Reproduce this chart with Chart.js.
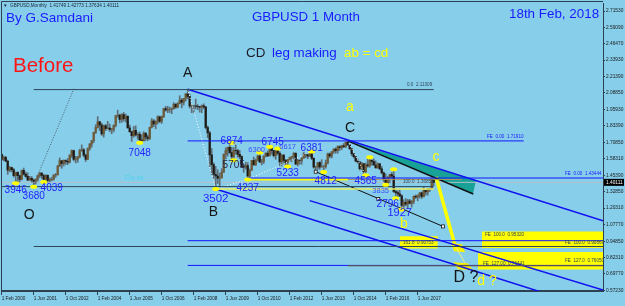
<!DOCTYPE html>
<html>
<head>
<meta charset="utf-8">
<script src="https://cdn.jsdelivr.net/npm/chart.js@4.4.1/dist/chart.umd.min.js"></script>
<style>
  html, body { margin: 0; padding: 0; background: #87ceeb; }
  #wrap { width: 625px; height: 306px; }
</style>
</head>
<body>
<div id="wrap"><canvas id="chart" width="625" height="306"></canvas></div>
<script>
// GBPUSD monthly candles, Feb 2000 .. Feb 2018 (index 0 = Feb 2000)
var firstOpen = 1.6170;
var closes = [
  1.5780,1.5930,1.5640,1.4950,1.5150,1.4980,1.4530,1.4780,1.4530,1.4240,1.4930,
  1.4640,1.4470,1.4190,1.4320,1.4180,1.4100,1.4240,1.4530,1.4720,1.4540,1.4240,1.4550,
  1.4160,1.4230,1.4250,1.4570,1.4600,1.5260,1.5670,1.5450,1.5690,1.5630,1.5560,1.6100,
  1.6450,1.5780,1.5800,1.5960,1.6450,1.6510,1.6100,1.5780,1.6600,1.6950,1.7220,1.7850,
  1.8220,1.8660,1.8410,1.7730,1.8350,1.8140,1.8180,1.8060,1.8070,1.8390,1.9140,1.9170,
  1.8840,1.9210,1.8890,1.9080,1.8190,1.7900,1.7590,1.8000,1.7650,1.7700,1.7270,1.7200,
  1.7780,1.7490,1.7370,1.8240,1.8720,1.8490,1.8680,1.9040,1.8700,1.9070,1.9670,1.9570,
  1.9610,1.9620,1.9670,2.0000,1.9790,2.0070,2.0320,2.0160,2.0450,2.0800,2.0600,1.9860,
  1.9880,1.9880,1.9850,1.9830,1.9780,1.9890,1.9800,1.8220,1.7810,1.6120,1.5370,1.4620,
  1.4500,1.4320,1.4350,1.4790,1.6160,1.6460,1.6700,1.6290,1.5980,1.6460,1.6440,1.6160,
  1.5990,1.5230,1.5180,1.5300,1.4500,1.4950,1.5690,1.5350,1.5720,1.6030,1.5570,1.5610,
  1.6010,1.6250,1.6040,1.6700,1.6450,1.6060,1.6440,1.6250,1.5590,1.6080,1.5700,1.5540,
  1.5750,1.5910,1.6000,1.6240,1.5420,1.5690,1.5680,1.5870,1.6150,1.6130,1.6020,1.6250,
  1.5860,1.5180,1.5190,1.5530,1.5190,1.5210,1.5210,1.5500,1.6190,1.6030,1.6360,1.6560,
  1.6440,1.6750,1.6670,1.6820,1.6740,1.7100,1.6880,1.6590,1.6210,1.5990,1.5640,1.5580,
  1.5060,1.5440,1.4830,1.5350,1.5280,1.5710,1.5620,1.5340,1.5120,1.5440,1.5050,1.4740,
  1.4250,1.3920,1.4370,1.4610,1.4490,1.3310,1.3230,1.3130,1.2980,1.2240,1.2480,1.2340,
  1.2580,1.2410,1.2550,1.2940,1.2880,1.3030,1.3210,1.2920,1.3400,1.3280,1.3520,1.3510,
  1.4175,1.4011
];
var highs = [
  1.6190,1.6040,1.6000,1.5720,1.5230,1.5180,1.5080,1.4800,1.4820,1.4560,1.4960,
  1.5110,1.4800,1.4740,1.4470,1.4460,1.4270,1.4290,1.4560,1.4780,1.4760,1.4620,1.4600,
  1.4580,1.4340,1.4410,1.4600,1.4700,1.5330,1.5890,1.5700,1.5740,1.5740,1.5850,1.6130,
  1.6500,1.6480,1.6010,1.6000,1.6560,1.6890,1.6620,1.6180,1.6660,1.7000,1.7230,1.7860,
  1.8430,1.9050,1.8700,1.8560,1.8420,1.8460,1.8690,1.8490,1.8160,1.8420,1.9150,1.9550,
  1.9240,1.9290,1.9380,1.9250,1.9130,1.8410,1.7930,1.8300,1.8350,1.7820,1.7880,1.7670,
  1.7900,1.7830,1.7640,1.8250,1.8910,1.8840,1.8740,1.9120,1.9100,1.9100,1.9700,1.9850,
  1.9850,1.9790,1.9720,2.0130,2.0060,2.0130,2.0660,2.0450,2.0460,2.0820,2.1161,2.0750,
  1.9940,1.9930,2.0400,1.9980,1.9850,1.9950,2.0040,1.9850,1.8340,1.7920,1.6610,1.5510,
  1.5230,1.4980,1.4730,1.5060,1.6190,1.6660,1.6720,1.7043,1.6700,1.6680,1.6880,1.6550,
  1.6460,1.6050,1.5370,1.5560,1.5520,1.5040,1.5700,1.5950,1.5800,1.6100,1.6300,1.5780,
  1.6060,1.6280,1.6420,1.6745,1.6700,1.6470,1.6470,1.6617,1.6370,1.6170,1.6170,1.5780,
  1.5780,1.5950,1.6000,1.6300,1.6290,1.5780,1.5750,1.5900,1.6310,1.6180,1.6170,1.6310,
  1.6381,1.5890,1.5250,1.5530,1.5600,1.5750,1.5310,1.5720,1.6260,1.6260,1.6380,1.6600,
  1.6670,1.6820,1.6820,1.6860,1.6990,1.7100,1.7190,1.6890,1.6640,1.6230,1.6000,1.5790,
  1.5590,1.5550,1.5450,1.5500,1.5820,1.5930,1.5730,1.5820,1.5660,1.5500,1.5450,1.5240,
  1.4810,1.4670,1.4460,1.4640,1.4770,1.5018,1.3480,1.3370,1.3440,1.3060,1.2680,1.2770,
  1.2710,1.2710,1.2620,1.2970,1.3050,1.3030,1.3210,1.3270,1.3650,1.3410,1.3550,1.3550,
  1.4340,1.4277
];
var lows = [
  1.5720,1.5670,1.5600,1.4630,1.4820,1.4810,1.4420,1.3946,1.4020,1.4050,1.4200,
  1.4570,1.4400,1.4140,1.4160,1.4030,1.3680,1.3890,1.4100,1.4380,1.4320,1.4039,1.4150,
  1.4030,1.4050,1.4120,1.4180,1.4400,1.4560,1.5220,1.5090,1.5260,1.5380,1.5370,1.5500,
  1.5920,1.5660,1.5500,1.5550,1.5900,1.6400,1.5970,1.5610,1.5760,1.6470,1.6710,1.7060,
  1.7760,1.8170,1.7980,1.7610,1.7480,1.7980,1.8110,1.7900,1.7740,1.7880,1.8270,1.9010,
  1.8580,1.8620,1.8700,1.8640,1.8170,1.7850,1.7150,1.7480,1.7560,1.7330,1.7048,1.7150,
  1.7190,1.7220,1.7210,1.7290,1.8180,1.8290,1.8120,1.8490,1.8590,1.8530,1.8980,1.9470,
  1.9360,1.9380,1.9280,1.9620,1.9690,1.9730,2.0040,1.9730,1.9940,2.0250,2.0420,1.9720,
  1.9360,1.9350,1.9650,1.9590,1.9400,1.9360,1.9660,1.8110,1.7440,1.5220,1.4600,1.4270,
  1.3502,1.3920,1.3650,1.4340,1.4780,1.5810,1.6030,1.6230,1.5750,1.5710,1.6170,1.5940,
  1.5830,1.5150,1.4780,1.5030,1.4237,1.4350,1.4920,1.5340,1.5300,1.5650,1.5530,1.5350,
  1.5450,1.5960,1.6000,1.6040,1.6170,1.5950,1.5780,1.6120,1.5270,1.5270,1.5420,1.5340,
  1.5233,1.5600,1.5600,1.5800,1.5370,1.5270,1.5400,1.5400,1.5860,1.5910,1.5820,1.6000,
  1.5750,1.5090,1.4830,1.5030,1.5010,1.5170,1.4812,1.5100,1.5420,1.5890,1.5890,1.6230,
  1.6250,1.6250,1.6460,1.6530,1.6690,1.6690,1.6870,1.6540,1.6050,1.5880,1.5590,1.5490,
  1.4950,1.4990,1.4630,1.4565,1.5170,1.5170,1.5330,1.5330,1.5110,1.5100,1.4980,1.4650,
  1.4080,1.3835,1.3840,1.4000,1.4330,1.3230,1.2796,1.2860,1.2910,1.1927,1.2080,1.2200,
  1.1986,1.2350,1.2110,1.2370,1.2770,1.2590,1.2810,1.2770,1.2880,1.3030,1.3030,1.3300,
  1.3450,1.3763
];
var bidPrice = 1.40111;

var timeTickIdx = [0, 16, 32, 48, 64, 80, 96, 112, 128, 144, 160, 176, 192, 208];
var timeLabels = ['1 Feb 2000', '1 Jun 2001', '1 Oct 2002', '1 Feb 2004', '1 Jun 2005', '1 Oct 2006', '1 Feb 2008',
  '1 Jun 2009', '1 Oct 2010', '1 Feb 2012', '1 Jun 2013', '1 Oct 2014', '1 Feb 2016', '1 Jun 2017'];
var priceTicks = [2.71530, 2.59090, 2.46470, 2.33930, 2.21390, 2.08850, 1.95930, 1.83390, 1.70850,
  1.58310, 1.45390, 1.32850, 1.20310, 1.07770, 0.94850, 0.82310, 0.69770, 0.57230];

// swing points marked with yellow dots: month index, price, label
var pivotIdx   = [7, 16, 21, 69, 115, 116, 107, 123, 129, 134, 138, 143, 155, 161, 182, 192, 197, 200, 184, 196];
var pivotPrice = [1.3946, 1.3680, 1.4039, 1.7048, 1.7050, 1.5710, 1.3502, 1.4237, 1.6300, 1.6745, 1.6617,
  1.5233, 1.6381, 1.4812, 1.4565, 1.3835, 1.2796, 1.1927, 1.5930, 1.5018];
var pivotText  = ['3946', '3680', '4039', '7048', '6874', '5705', '3502', '4237', '6300', '6745', '6617',
  '5233', '6381', '4812', '4565', '3835', '2796', '1927', '', ''];

// drawn objects, [month index, price] pairs
var fibTop    = [[16, 2.1131], [216, 2.1131]];
var fibBase   = [[0.15, 1.3685], [216, 1.3685]];
var fe100Line = [[16, 0.9087], [300.65, 0.9087]];
var fe127Line = [[173, 0.7605], [300.65, 0.7605]];
var feC       = [[93, 1.7191], [261, 1.7191]];
var feLast    = [[123, 1.43444], [300.65, 1.43444]];
var fe100Blue = [[93, 0.9532], [300.65, 0.9532]];
var fe127Blue = [[93, 0.7635], [300.65, 0.7635]];
var lvl4237   = [[123, 1.4237], [173, 1.4237]];
var lvl4237b  = [[173, 1.4237], [230, 1.4237]];
var lvl3502   = [[107, 1.3502], [216, 1.3502]];
var bidLine   = [[0.15, bidPrice], [300.65, bidPrice]];
var chanTop   = [[93, 2.1161], [300.65, 1.1067]];
var chanLow   = [[107, 1.3502], [300.65, 0.4089]];
var chanMid   = [[154, 1.2610], [300.65, 0.5747]];
var lineFromC = [[173, 1.7190], [235.8, 1.3121]];
var line4812  = [[157, 1.4830], [220.65, 1.0628]];
var dotRise   = [[15.65, 1.3685], [36.15, 2.1216]];
var dotAB     = [[93, 2.1161], [107, 1.3502]];
var dotB1     = [[107, 1.3502], [123, 1.4237]];
var dotB2     = [[123, 1.4237], [155, 1.6381]];
var dotC      = [[173, 1.7190], [182, 1.4565]];
var cdLeg     = [[217.15, 1.4429], [226.65, 0.9167]];
var cdTail    = [[226.65, 0.9167], [231.5, 0.7850]];
var squares   = [[157, 1.4830], [188.3, 1.2740], [220.65, 1.0628]];
var tealWedge = [[173, 1.7190], [237.15, 1.4154], [235.65, 1.3144], [173, 1.7190]];
var box161    = [[199.15, 0.9865], [218, 0.9865], [218, 0.8927], [199.15, 0.8927], [199.15, 0.9865]];
var box100    = [[240.15, 1.0246], [300.65, 1.0246], [300.65, 0.8977], [240.15, 0.8977], [240.15, 1.0246]];
var box127    = [[238.15, 0.8668], [300.65, 0.8668], [300.65, 0.7326], [238.15, 0.7326], [238.15, 0.8668]];
var dZone1    = [[224.65, 0.9331], [230.15, 0.9255], [231.65, 0.8645], [226.15, 0.8721], [224.65, 0.9331]];
var dZone2    = [[225.65, 0.7882], [233.15, 0.7806], [235.65, 0.7272], [228.15, 0.7348], [225.65, 0.7882]];

var fam = '"Liberation Sans", Arial, sans-serif';
Chart.defaults.font.family = fam;

var opens = closes.map(function (c, i) { return i === 0 ? firstOpen : closes[i - 1]; });
var wickData = closes.map(function (c, i) { return {x: i, y: [lows[i], highs[i]]}; });
var bodyData = closes.map(function (c, i) { return {x: i, y: [opens[i], c]}; });
var bodyColors = closes.map(function (c, i) { return c >= opens[i] ? '#6e5a36' : '#1d1a16'; });

function pts(arr) { return arr.map(function (p) { return {x: p[0], y: p[1]}; }); }
function line(arr, color, width, dash, order) {
  return { type: 'line', data: pts(arr), borderColor: color, borderWidth: width, borderDash: dash || [],
    pointRadius: 0, fill: false, tension: 0, order: order || 10 };
}
function shape(arr, color, order) {
  return { type: 'line', data: pts(arr), borderWidth: 0, borderColor: color, backgroundColor: color,
    fill: 'shape', pointRadius: 0, tension: 0, order: order };
}

// label placement next to each swing dot: dx, dy, font size
var pivotLabelPos = [[0, 7.5, 10], [0, 10, 10], [8, 6, 10], [0, 10.5, 10], [0, -2, 10], [0, 5, 10], [0, 10, 11.5],
  [0, 9, 10], [-3, -2.5, 7.5], [3, -4, 10], [10, -1, 7.5], [0, 6.5, 10], [0, -3.5, 10], [2, 9, 10], [0, 6.5, 10],
  [-5, 6, 7.5], [-8, 6.5, 10], [-2, 3, 11], [0, 0, 0], [0, 0, 0]];

var fixedTexts = [
  ['By G.Samdani', 6, 21.7, 13.5, '#1a1aff', 'left'],
  ['GBPUSD 1 Month', 252, 20.8, 13.3, '#1a1aff', 'left'],
  ['18th Feb, 2018', 509, 17.5, 13.4, '#1a1aff', 'left'],
  ['Before', 13, 71.7, 20.5, '#ff1414', 'left'],
  ['CD', 246, 57.3, 13.4, '#1c1c2a', 'left'],
  ['leg making', 272, 57.3, 13.4, '#1a1aff', 'left'],
  ['ab = cd', 344, 57.3, 13.4, '#ffff00', 'left'],
  ['A', 187.7, 76.5, 14, '#151515', 'center'],
  ['O', 29.3, 219, 14, '#151515', 'center'],
  ['B', 213.3, 216, 14, '#151515', 'center'],
  ['C', 350, 131.7, 14, '#151515', 'center'],
  ['a', 350, 111, 14, '#ffff00', 'center'],
  ['c', 436, 160.5, 14, '#ffff00', 'center'],
  ['b', 404, 227.5, 14, '#ffff00', 'center'],
  ['D ?', 466, 282, 16, '#151515', 'center'],
  ['d ?', 487, 284.5, 14, '#ffff00', 'center'],
  ['Go to', 134, 180, 8, '#4fd3ec', 'center']
];
var smallTexts = [
  ['\u25BC  GBPUSD,Monthly  1.41749 1.42773 1.37634 1.40111', 3, 5.5, '#1a2530'],
  ['0.0  2.11309', 407, 84.5, '#2e4656'],
  ['100.0  1.36853', 403, 182, '#2e4656'],
  ['FE  0.00  1.71910', 487, 136.7, '#1a1aff'],
  ['FE  0.00  1.43444', 565, 173.5, '#1a1aff'],
  ['161.8  0.90753', 403, 242.5, '#2e4656'],
  ['FE  100.0  0.95320', 485, 235, '#2e4656'],
  ['FE  100.0  0.90869', 565, 242.7, '#2e4656'],
  ['FE  127.00  0.76441', 483, 263.3, '#2e4656'],
  ['FE  127.0  0.76050', 565, 260.7, '#2e4656']
];

var annot = {
  id: 'annot',
  beforeDraw: function (chart) {
    var ctx = chart.ctx;
    ctx.save();
    ctx.fillStyle = '#87ceeb';
    ctx.fillRect(0, 0, chart.width, chart.height);
    ctx.restore();
  },
  afterDatasetsDraw: function (chart) {
    var ctx = chart.ctx, xs = chart.scales.x, ys = chart.scales.y;
    ctx.save();
    // white squares on the lower black line
    squares.forEach(function (p) {
      var px = xs.getPixelForValue(p[0]), py = ys.getPixelForValue(p[1]);
      ctx.fillStyle = '#ffffff'; ctx.strokeStyle = '#111';
      ctx.lineWidth = 0.8;
      ctx.fillRect(px - 1.5, py - 1.5, 3, 3); ctx.strokeRect(px - 1.5, py - 1.5, 3, 3);
    });
    // yellow swing dots
    pivotIdx.forEach(function (m, i) {
      var px = xs.getPixelForValue(m), py = ys.getPixelForValue(pivotPrice[i]);
      ctx.fillStyle = '#ffff00';
      ctx.beginPath(); ctx.ellipse(px, py, 3.5, 2, 0, 0, Math.PI * 2); ctx.fill();
    });
    // swing labels
    ctx.textBaseline = 'middle'; ctx.textAlign = 'center';
    pivotIdx.forEach(function (m, i) {
      if (!pivotText[i]) return;
      var lp = pivotLabelPos[i];
      var px = xs.getPixelForValue(m) + lp[0], py = ys.getPixelForValue(pivotPrice[i]) + lp[1];
      ctx.font = lp[2] + 'px ' + fam;
      ctx.fillStyle = pivotText[i] === '5705' ? '#26264a' : (lp[2] < 9 ? '#3d4dff' : '#2323ff');
      ctx.fillText(pivotText[i], px, py);
    });
    ctx.textBaseline = 'alphabetic';
    fixedTexts.forEach(function (t) {
      ctx.font = t[3] + 'px ' + fam;
      ctx.fillStyle = t[4]; ctx.textAlign = t[5];
      ctx.fillText(t[0], t[1], t[2]);
    });
    ctx.textBaseline = 'middle'; ctx.textAlign = 'left';
    ctx.font = '4.6px ' + fam;
    smallTexts.forEach(function (t) {
      ctx.fillStyle = t[3];
      ctx.fillText(t[0], t[1], t[2]);
    });
    ctx.restore();
  },
  afterDraw: function (chart) {
    var ctx = chart.ctx, a = chart.chartArea, ys = chart.scales.y;
    ctx.save();
    ctx.strokeStyle = '#2e4150'; ctx.lineWidth = 1;
    ctx.beginPath();
    ctx.moveTo(1.5, a.bottom); ctx.lineTo(1.5, 1.5); ctx.lineTo(a.right, 1.5);
    ctx.stroke();
    var by = ys.getPixelForValue(bidPrice);
    ctx.fillStyle = '#000000';
    ctx.fillRect(a.right + 1, by - 3.5, 20, 7);
    ctx.fillStyle = '#ffffff';
    ctx.font = '4.8px ' + fam; ctx.textBaseline = 'middle'; ctx.textAlign = 'left';
    ctx.fillText(bidPrice.toFixed(5), a.right + 3, by);
    ctx.restore();
  }
};

var datasets = [
  shape(box161, '#ffff00', 100),
  shape(box100, '#ffff00', 100),
  shape(box127, '#ffff00', 100),
  shape(dZone1, '#f6f000', 100),
  shape(dZone2, '#f6f000', 100),
  shape(tealWedge, '#17a197', 95),
  line(bidLine, '#b4c0c8', 1, null, 92),
  { type: 'bar', data: wickData, backgroundColor: '#5e6d76', barThickness: 1, grouped: false, order: 90 },
  { type: 'bar', data: bodyData, backgroundColor: bodyColors, barThickness: 1.6, grouped: false, order: 89 },
  line(fibTop, '#2e4656', 1),
  line(fibBase, '#2e4656', 1),
  line(fe100Line, '#2e4656', 1),
  line(fe127Line, '#6a5a3a', 1),
  line(feC, '#1414ff', 1),
  line(feLast, '#1414ff', 1),
  line(fe100Blue, '#1414ff', 1),
  line(fe127Blue, '#1414ff', 1),
  line(lvl4237, '#ffff00', 2),
  line(lvl4237b, '#b09a55', 1),
  line(lvl3502, '#eef060', 1.5),
  line(chanTop, '#1010f0', 1.5),
  line(chanLow, '#1010f0', 1.5),
  line(chanMid, '#1010f0', 1.5),
  line(lineFromC, '#101010', 1.5),
  line(line4812, '#101010', 1),
  line(dotRise, '#4d5e6a', 1, [1, 1.5]),
  line(dotAB, '#ffffff', 1, [1, 2]),
  line(dotB1, '#ffffff', 1, [1, 2]),
  line(dotB2, '#ffffff', 1, [1, 2]),
  line(dotC, '#ffffff', 1, [1, 2]),
  line(cdLeg, '#ffff00', 3.5),
  line(cdTail, '#f0f080', 1)
];

new Chart(document.getElementById('chart'), {
  type: 'bar',
  data: { datasets: datasets },
  plugins: [annot],
  options: {
    responsive: false,
    animation: false,
    events: [],
    layout: { padding: { left: 2, top: 2, right: 0, bottom: 0 } },
    plugins: { legend: { display: false }, tooltip: { enabled: false } },
    scales: {
      x: {
        type: 'linear', min: 0.15, max: 300.65, offset: false, position: 'bottom',
        afterBuildTicks: function (s) { s.ticks = timeTickIdx.map(function (v) { return {value: v}; }); },
        afterFit: function (s) { s.height = 15; },
        grid: { drawOnChartArea: false, drawTicks: true, tickLength: 4, tickColor: '#2e4150', offset: false },
        border: { display: true, color: '#2e4150', width: 2 },
        ticks: {
          autoSkip: false, maxRotation: 0, minRotation: 0, align: 'start', padding: 1,
          color: '#1a1a1a', font: { size: 4.7 },
          callback: function (v) { var k = timeTickIdx.indexOf(v); return k < 0 ? '' : timeLabels[k]; }
        }
      },
      y: {
        type: 'linear', position: 'right', min: 0.5671, max: 2.7710,
        afterBuildTicks: function (s) { s.ticks = priceTicks.map(function (v) { return {value: v}; }); },
        afterFit: function (s) { s.width = 22; },
        grid: { drawOnChartArea: false, drawTicks: true, tickLength: 2, tickColor: '#2e4150' },
        border: { display: true, color: '#2e4150', width: 1 },
        ticks: {
          autoSkip: false, padding: 1, color: '#1a1a1a', font: { size: 4.8 },
          callback: function (v) { return v.toFixed(5); }
        }
      }
    }
  }
});
</script>
</body>
</html>
